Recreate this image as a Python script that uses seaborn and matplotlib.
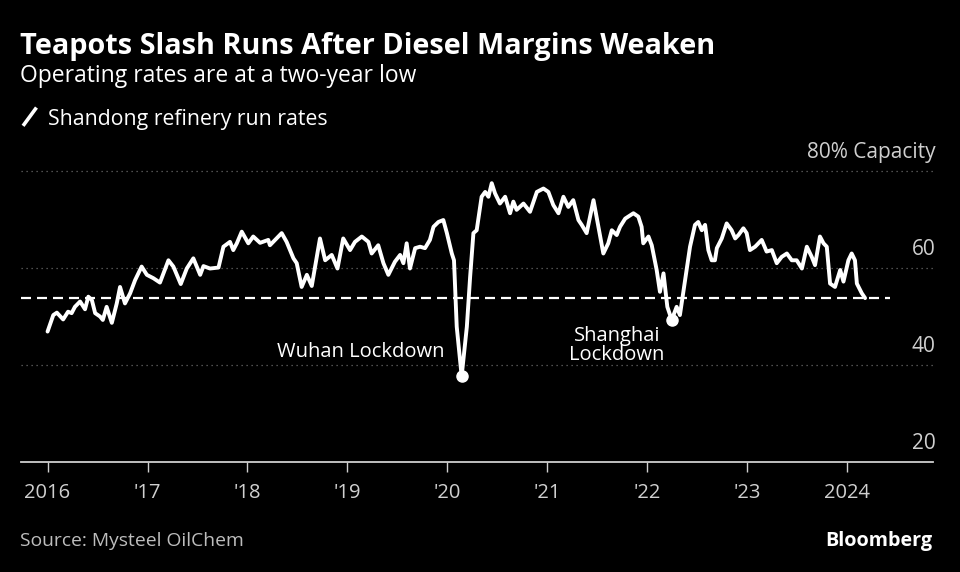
import pandas as pd
import numpy as np
import matplotlib.pyplot as plt
import matplotlib.dates as mdates
from matplotlib.lines import Line2D
import seaborn as sns

# weekly run rates (%)
dates = [
    '2016-01-01', '2016-01-22', '2016-02-04', '2016-02-27', '2016-03-16', '2016-03-29',
    '2016-04-10', '2016-04-29', '2016-05-17', '2016-05-29', '2016-06-11', '2016-06-23',
    '2016-07-11', '2016-07-21', '2016-08-04', '2016-08-23', '2016-09-10', '2016-09-22',
    '2016-10-10', '2016-10-29', '2016-11-16', '2016-12-10', '2016-12-29', '2017-01-22',
    '2017-02-15', '2017-03-18', '2017-04-05', '2017-05-02', '2017-05-24', '2017-06-17',
    '2017-07-12', '2017-07-24', '2017-08-17', '2017-09-17', '2017-10-05', '2017-10-29',
    '2017-11-10', '2017-11-23', '2017-12-11', '2018-01-04', '2018-01-22', '2018-02-16',
    '2018-03-18', '2018-03-24', '2018-04-12', '2018-05-06', '2018-05-24', '2018-06-18',
    '2018-06-30', '2018-07-18', '2018-08-06', '2018-08-24', '2018-09-23', '2018-10-12',
    '2018-11-05', '2018-11-26', '2018-12-17', '2019-01-11', '2019-01-29', '2019-02-23',
    '2019-03-19', '2019-03-31', '2019-04-24', '2019-05-13', '2019-05-31', '2019-06-24',
    '2019-07-13', '2019-07-25', '2019-08-06', '2019-08-18', '2019-09-06', '2019-09-24',
    '2019-10-12', '2019-10-30', '2019-11-12', '2019-11-30', '2019-12-18', '2019-12-31',
    '2020-01-18', '2020-01-26', '2020-02-05', '2020-02-23', '2020-03-13', '2020-03-25',
    '2020-04-06', '2020-04-18', '2020-05-06', '2020-05-19', '2020-05-31', '2020-06-12',
    '2020-06-24', '2020-07-12', '2020-07-31', '2020-08-18', '2020-08-30', '2020-09-11',
    '2020-10-06', '2020-10-30', '2020-11-24', '2020-12-18', '2021-01-05', '2021-01-23',
    '2021-02-11', '2021-03-01', '2021-03-19', '2021-04-06', '2021-04-25', '2021-05-07',
    '2021-05-25', '2021-06-19', '2021-07-07', '2021-07-25', '2021-08-12', '2021-08-25',
    '2021-09-12', '2021-09-24', '2021-10-13', '2021-11-12', '2021-11-30', '2021-12-12',
    '2021-12-18', '2022-01-06', '2022-01-18', '2022-02-05', '2022-02-17', '2022-03-02',
    '2022-03-16', '2022-04-01', '2022-04-19', '2022-05-01', '2022-05-20', '2022-06-07',
    '2022-06-25', '2022-07-07', '2022-07-20', '2022-08-01', '2022-08-13', '2022-08-25',
    '2022-09-06', '2022-09-13', '2022-10-01', '2022-10-19', '2022-11-06', '2022-11-19',
    '2022-12-01', '2022-12-19', '2022-12-31', '2023-01-12', '2023-01-31', '2023-02-24',
    '2023-03-14', '2023-04-02', '2023-04-20', '2023-05-08', '2023-05-27', '2023-06-14',
    '2023-07-02', '2023-07-21', '2023-08-08', '2023-08-26', '2023-09-07', '2023-09-25',
    '2023-10-08', '2023-10-20', '2023-11-01', '2023-11-19', '2023-12-08', '2023-12-20',
    '2024-01-07', '2024-01-19', '2024-01-31', '2024-02-07', '2024-02-25', '2024-03-08',
]
rates = [
    46.9, 50.3, 50.8, 49.4, 51.0, 50.7,
    52.0, 53.1, 51.5, 54.1, 53.4, 50.7,
    50.0, 49.3, 52.0, 48.7, 52.7, 56.1,
    52.7, 54.8, 57.5, 60.3, 58.6, 57.9,
    57.0, 61.6, 60.3, 56.7, 59.9, 62.0,
    58.6, 60.4, 59.9, 60.1, 64.4, 65.4,
    63.7, 65.1, 67.5, 65.1, 66.5, 65.2,
    65.8, 64.7, 65.8, 67.2, 65.4, 62.0,
    61.0, 56.1, 58.6, 56.3, 66.1, 61.6,
    62.7, 59.9, 66.1, 63.7, 65.4, 66.5,
    65.4, 63.0, 64.7, 61.0, 58.6, 61.3,
    62.7, 61.0, 65.1, 59.9, 64.1, 64.4,
    64.1, 65.8, 68.5, 69.5, 69.9, 67.2,
    63.0, 61.6, 47.9, 37.7, 47.9, 58.2,
    67.2, 67.8, 74.7, 75.7, 74.7, 77.5,
    75.4, 73.3, 74.7, 71.3, 73.7, 72.0,
    73.3, 71.6, 75.7, 76.4, 75.7, 73.0,
    71.3, 74.7, 72.6, 74.0, 69.9, 68.9,
    67.2, 74.0, 68.5, 63.0, 65.1, 67.8,
    66.8, 68.5, 70.2, 71.3, 70.6, 68.5,
    65.1, 66.5, 64.7, 59.6, 55.1, 58.9,
    52.0, 49.3, 52.0, 50.3, 57.5, 64.4,
    68.9, 69.5, 67.8, 68.9, 63.7, 61.6,
    61.6, 64.1, 66.1, 69.2, 67.8, 66.1,
    66.8, 68.2, 67.2, 63.7, 64.4, 65.8,
    63.4, 63.7, 61.0, 62.3, 63.0, 61.6,
    61.6, 59.9, 64.4, 62.3, 60.6, 66.5,
    65.1, 64.4, 56.8, 56.1, 59.6, 57.2,
    61.6, 63.0, 61.6, 56.8, 54.8, 53.8,
]

year_ticks = ['2016', '2017', '2018', '2019', '2020', '2021', '2022', '2023', '2024']
year_labels = ['2016', "'17", "'18", "'19", "'20", "'21", "'22", "'23", '2024']
y_ticks = [20, 40, 60, 80]
y_labels = ['20', '40', '60', '80% Capacity']

lockdowns = {'Wuhan Lockdown': '2020-02-23', 'Shanghai\nLockdown': '2022-04-01'}

df = pd.DataFrame({'date': pd.to_datetime(dates), 'rate': rates})

sns.set_style('dark')
FONT = ['Open Sans', 'DejaVu Sans']
plt.rcParams['font.family'] = FONT
BG = '#000000'
GREY = '#cfcfcf'

fig = plt.figure(figsize=(9.6, 5.72), dpi=100, facecolor=BG)
ax = fig.add_axes([0.0219, 0.1923, 0.9496, 0.5629])
ax.set_facecolor(BG)

sns.lineplot(data=df, x='date', y='rate', color='white', lw=2.8, ax=ax)

# dashed reference at the latest reading
xmin = pd.Timestamp('2015-09-26')
xmax = pd.Timestamp('2024-11-10')
ax.hlines(rates[-1], xmin, pd.Timestamp('2024-06-07'), colors='white', lw=1.6,
          linestyles=(0, (4.5, 2.7)), zorder=1)

# lockdown lows
for lab, d in lockdowns.items():
    row = df[df['date'] == pd.Timestamp(d)].iloc[0]
    ax.plot(row['date'], row['rate'], 'o', color='white', ms=8, zorder=5)
ax.text(pd.Timestamp('2019-12-24'), 41.6, 'Wuhan Lockdown', color='white',
        fontsize=14.5, ha='right', va='baseline')
ax.text(pd.Timestamp('2021-09-13'), 44.1, 'Shanghai\nLockdown', color='white',
        fontsize=14.5, ha='center', va='center', linespacing=0.95)

ax.set_xlim(xmin, xmax)
ax.set_ylim(20, 86.4)
ax.set_xticks(pd.to_datetime(year_ticks))
ax.set_xticklabels(year_labels)
ax.set_yticks(y_ticks)
ax.set_yticklabels([])
ax.tick_params(axis='y', length=0)
ax.tick_params(axis='x', bottom=True, colors=GREY, labelsize=14.5, length=7, width=1,
               pad=8, direction='out')
ax.grid(False)
for v in y_ticks[1:]:
    ax.axhline(v, color='#6a6a6a', lw=0.9, ls=(0, (1, 3)), zorder=0, xmax=1.003,
               clip_on=False)
for v, lab in zip(y_ticks, y_labels):
    ax.text(1.003, v + 2.7, lab, transform=ax.get_yaxis_transform(), color=GREY,
            fontsize=15, ha='right', va='baseline')

for s in ['top', 'right', 'left']:
    ax.spines[s].set_visible(False)
ax.spines['bottom'].set_color(GREY)
ax.spines['bottom'].set_linewidth(1.3)
ax.set_xlabel('')
ax.set_ylabel('')

# titles and legend
fig.text(0.021, 0.905, 'Teapots Slash Runs After Diesel Margins Weaken', color='white',
         fontsize=20.8, fontweight='bold', va='baseline')
fig.text(0.021, 0.857, 'Operating rates are at a two-year low', color='white',
         fontsize=16.5, va='baseline')
fig.add_artist(Line2D([0.024, 0.038], [0.780, 0.812], color='white', lw=2.6,
                      solid_capstyle='butt'))
fig.text(0.050, 0.782, 'Shandong refinery run rates', color='white',
         fontsize=15.3, va='baseline')
fig.text(0.021, 0.046, 'Source: Mysteel OilChem', color='#bdbdbd', fontsize=13.9,
         va='baseline')
fig.text(0.971, 0.046, 'Bloomberg', color='white', fontsize=14.2, fontweight='bold',
         ha='right', va='baseline')

fig.savefig('out.png', dpi=100, facecolor=BG)
